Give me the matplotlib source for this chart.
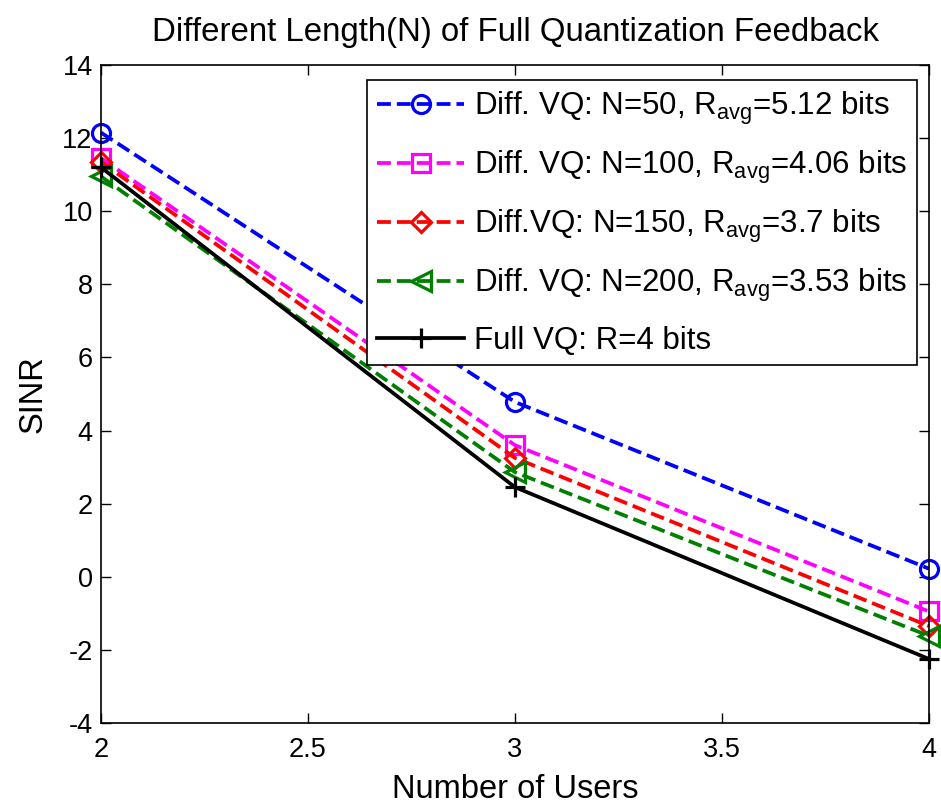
import matplotlib
matplotlib.use("Agg")
import matplotlib.pyplot as plt

plt.rcParams['font.family'] = ['Liberation Sans', 'DejaVu Sans']
plt.rcParams['mathtext.fontset'] = 'custom'
plt.rcParams['mathtext.rm'] = 'Liberation Sans'
plt.rcParams['mathtext.it'] = 'Liberation Sans:italic'
plt.rcParams['axes.unicode_minus'] = False

users = [2, 3, 4]
n50 = [12.15, 4.78, 0.22]
n100 = [11.45, 3.6, -0.95]
n150 = [11.35, 3.25, -1.35]
n200 = [10.95, 2.86, -1.62]
full = [11.2, 2.45, -2.25]

labels = [r'Diff. VQ: N=50, R$_{\rm avg}$=5.12 bits',
          r'Diff. VQ: N=100, R$_{\rm avg}$=4.06 bits',
          r'Diff.VQ: N=150, R$_{\rm avg}$=3.7 bits',
          r'Diff. VQ: N=200, R$_{\rm avg}$=3.53 bits',
          'Full VQ: R=4 bits']
xticks = [2, 2.5, 3, 3.5, 4]
yticks = [-4, -2, 0, 2, 4, 6, 8, 10, 12, 14]

fig = plt.figure(figsize=(9.41, 8.06), dpi=100)
ax = fig.add_axes([0.1073, 0.1030, 0.8800, 0.8164])

lw = 2.7
mew = 2.3
kw = dict(lw=lw, mew=mew, clip_on=False)
ax.plot(users, n50, '--o', color='#0000ff', ms=13, mfc='none', label=labels[0], **kw)
ax.plot(users, n100, '--s', color='#ff00ff', ms=13, mfc='none', label=labels[1], **kw)
ax.plot(users, n150, '--D', color='#ff0000', ms=10, mfc='none', label=labels[2], **kw)
ax.plot(users, n200, '--<', color='#008000', ms=14, mfc='none', label=labels[3], **kw)
ax.plot(users, full, '-+', color='black', ms=14, label=labels[4], **kw)

ax.set_xlim(2, 4)
ax.set_ylim(-4, 14)
ax.set_xticks(xticks)
ax.set_xticklabels(['2', '2.5', '3', '3.5', '4'])
ax.set_yticks(yticks)
ax.tick_params(direction='in', top=True, right=True, labelsize=19.5, length=7, width=1)
ax.tick_params(axis='x', pad=10)
ax.tick_params(axis='y', pad=6)
for s in ax.spines.values():
    s.set_linewidth(1.2)

ax.set_xlabel('Number of Users', fontsize=23.5, labelpad=8)
ax.set_ylabel('SINR', fontsize=23.5, labelpad=10)
ax.set_title('Different Length(N) of Full Quantization Feedback', fontsize=23.8, pad=17)

leg = ax.legend(loc='upper right', bbox_to_anchor=(0.9855, 0.977), fontsize=22.5,
                frameon=True, fancybox=False, edgecolor='black', framealpha=1,
                handlelength=2.8, borderpad=0.3, labelspacing=0.7, handletextpad=0.32,
                borderaxespad=0)
leg.get_frame().set_linewidth(1.2)

fig.savefig('out.png', dpi=100)
